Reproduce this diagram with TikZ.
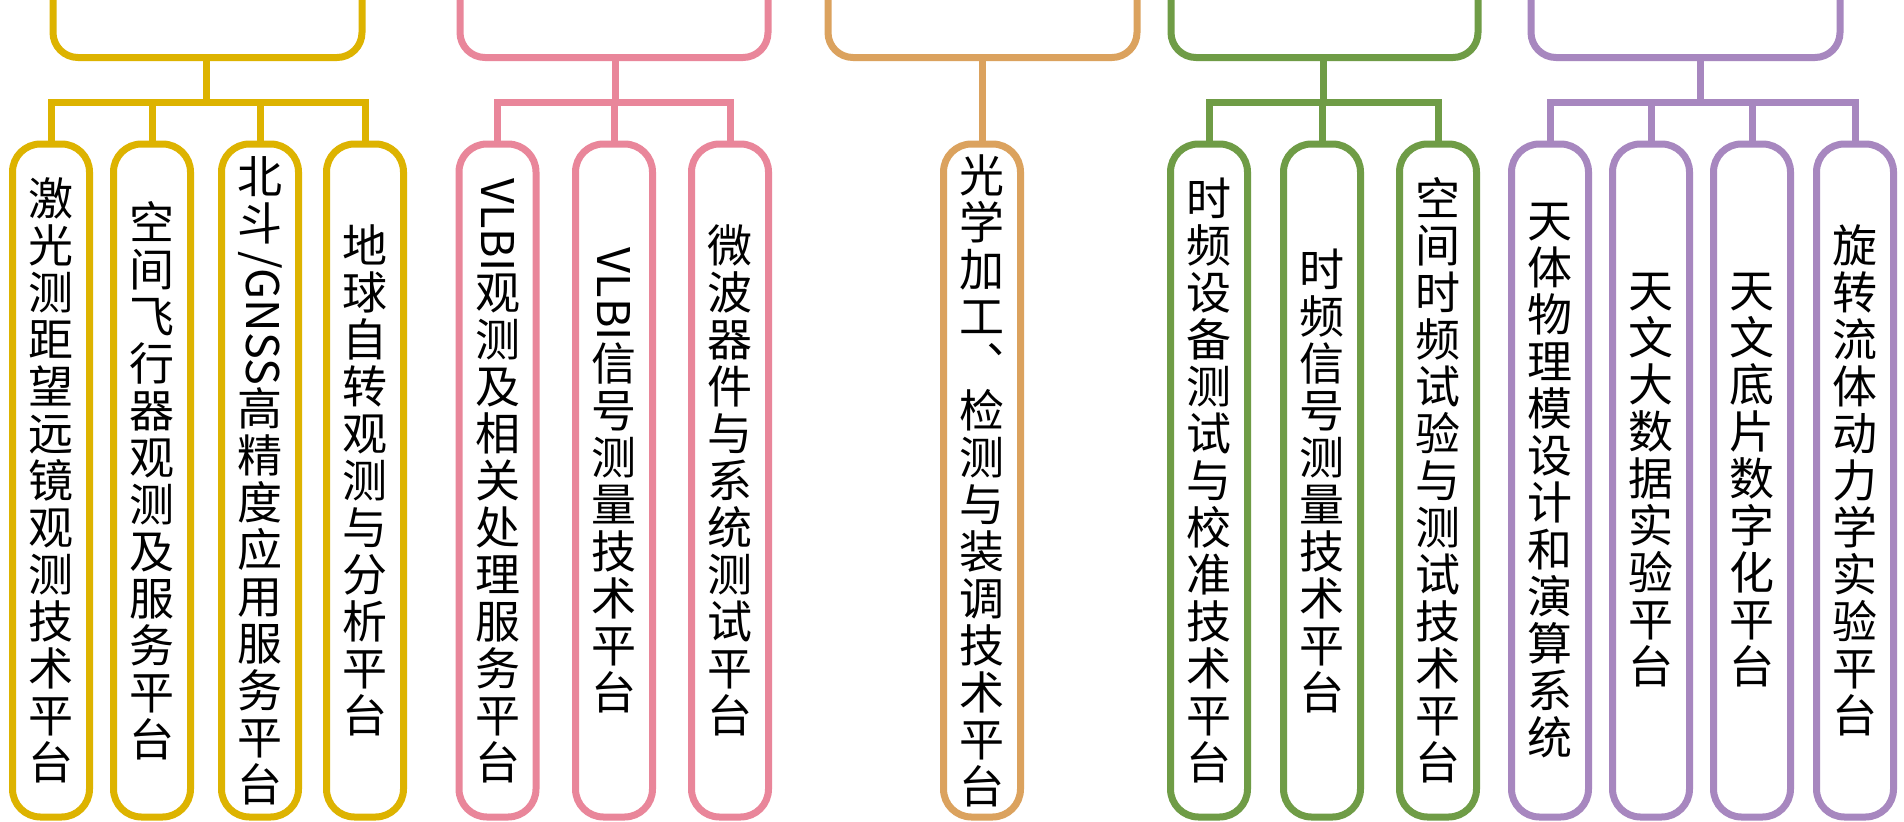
\documentclass[tikz,border=0pt]{standalone}
\usepackage{fontspec}
\usepackage{graphicx}
\newfontfamily\cjkfont{Noto Sans CJK SC}
\definecolor{cY}{RGB}{221,179,0}
\definecolor{cP}{RGB}{233,134,154}
\definecolor{cO}{RGB}{219,162,94}
\definecolor{cG}{RGB}{111,156,70}
\definecolor{cU}{RGB}{167,135,191}
\newlength\rotw
\newcommand\rotlat[1]{\settowidth\rotw{#1}\raisebox{0.8em}[0.8em][\dimexpr\rotw-0.8em+1pt\relax]{\rotatebox{-90}{#1}}}
\tikzset{
  pbox/.style={draw, line width=7pt, rounded corners=28pt, minimum width=77pt,
    minimum height=673pt, inner sep=0pt, align=center, fill=white,
    font=\cjkfont\fontsize{45pt}{47pt}\selectfont},
  link/.style={line width=7pt},
  brack/.style={line width=7pt, rounded corners=25pt}
}
\begin{document}
\begin{tikzpicture}[x=1pt,y=-1pt]
\fill[white] (0,0) rectangle (1904,822);
\useasboundingbox (0,0) rectangle (1904,822);

% ---------- yellow group ----------
\draw[brack, cY] (53,-20) -- (53,57.5) -- (362,57.5) -- (362,-20);
\coordinate (ytop) at (206,57.5);
\coordinate (ybar) at (206,102.5);
\node[pbox, draw=cY] (y1) at (51,480.5) {激\\光\\测\\距\\望\\远\\镜\\观\\测\\技\\术\\平\\台};
\node[pbox, draw=cY] (y2) at (152,480.5) {空\\间\\飞\\行\\器\\观\\测\\及\\服\\务\\平\\台};
\node[pbox, draw=cY] (y3) at (260,480.5) {北\\斗\\\rotlat{/GNSS}\\高\\精\\度\\应\\用\\服\\务\\平\\台};
\node[pbox, draw=cY] (y4) at (365,480.5) {地\\球\\自\\转\\观\\测\\与\\分\\析\\平\\台};
\draw[link, cY] (ytop) -- (ybar);
\draw[link, cY] (y1.north) -- (y1.north |- ybar) -- (y4.north |- ybar) -- (y4.north);
\draw[link, cY] (y2.north) -- (y2.north |- ybar);
\draw[link, cY] (y3.north) -- (y3.north |- ybar);

% ---------- pink group ----------
\draw[brack, cP] (460,-20) -- (460,57.5) -- (768,57.5) -- (768,-20);
\coordinate (ptop) at (615,57.5);
\coordinate (pbar) at (615,102.5);
\node[pbox, draw=cP] (p1) at (497.5,480.5) {\rotlat{VLBI}\\观\\测\\及\\相\\关\\处\\理\\服\\务\\平\\台};
\node[pbox, draw=cP] (p2) at (614,480.5) {\rotlat{VLBI}\\信\\号\\测\\量\\技\\术\\平\\台};
\node[pbox, draw=cP] (p3) at (730,480.5) {微\\波\\器\\件\\与\\系\\统\\测\\试\\平\\台};
\draw[link, cP] (ptop) -- (pbar);
\draw[link, cP] (p1.north) -- (p1.north |- pbar) -- (p3.north |- pbar) -- (p3.north);
\draw[link, cP] (p2.north) -- (p2.north |- pbar);

% ---------- orange group ----------
\draw[brack, cO] (828,-20) -- (828,57.5) -- (1137,57.5) -- (1137,-20);
\coordinate (otop) at (982,57.5);
\node[pbox, draw=cO] (o1) at (982,480.5) {光\\学\\加\\工\\︑\\检\\测\\与\\装\\调\\技\\术\\平\\台};
\draw[link, cO] (otop) -- (o1.north);

% ---------- green group ----------
\draw[brack, cG] (1171,-20) -- (1171,57.5) -- (1478,57.5) -- (1478,-20);
\coordinate (gtop) at (1323,57.5);
\coordinate (gbar) at (1323,102.5);
\node[pbox, draw=cG] (g1) at (1209,480.5) {时\\频\\设\\备\\测\\试\\与\\校\\准\\技\\术\\平\\台};
\node[pbox, draw=cG] (g2) at (1322,480.5) {时\\频\\信\\号\\测\\量\\技\\术\\平\\台};
\node[pbox, draw=cG] (g3) at (1438,480.5) {空\\间\\时\\频\\试\\验\\与\\测\\试\\技\\术\\平\\台};
\draw[link, cG] (gtop) -- (gbar);
\draw[link, cG] (g1.north) -- (g1.north |- gbar) -- (g3.north |- gbar) -- (g3.north);
\draw[link, cG] (g2.north) -- (g2.north |- gbar);

% ---------- purple group ----------
\draw[brack, cU] (1531,-20) -- (1531,57.5) -- (1840,57.5) -- (1840,-20);
\coordinate (utop) at (1700,57.5);
\coordinate (ubar) at (1700,102.5);
\node[pbox, draw=cU] (u1) at (1550,480.5) {天\\体\\物\\理\\模\\设\\计\\和\\演\\算\\系\\统};
\node[pbox, draw=cU] (u2) at (1651,480.5) {天\\文\\大\\数\\据\\实\\验\\平\\台};
\node[pbox, draw=cU] (u3) at (1752,480.5) {天\\文\\底\\片\\数\\字\\化\\平\\台};
\node[pbox, draw=cU] (u4) at (1855,480.5) {旋\\转\\流\\体\\动\\力\\学\\实\\验\\平\\台};
\draw[link, cU] (utop) -- (ubar);
\draw[link, cU] (u1.north) -- (u1.north |- ubar) -- (u4.north |- ubar) -- (u4.north);
\draw[link, cU] (u2.north) -- (u2.north |- ubar);
\draw[link, cU] (u3.north) -- (u3.north |- ubar);
\end{tikzpicture}
\end{document}
